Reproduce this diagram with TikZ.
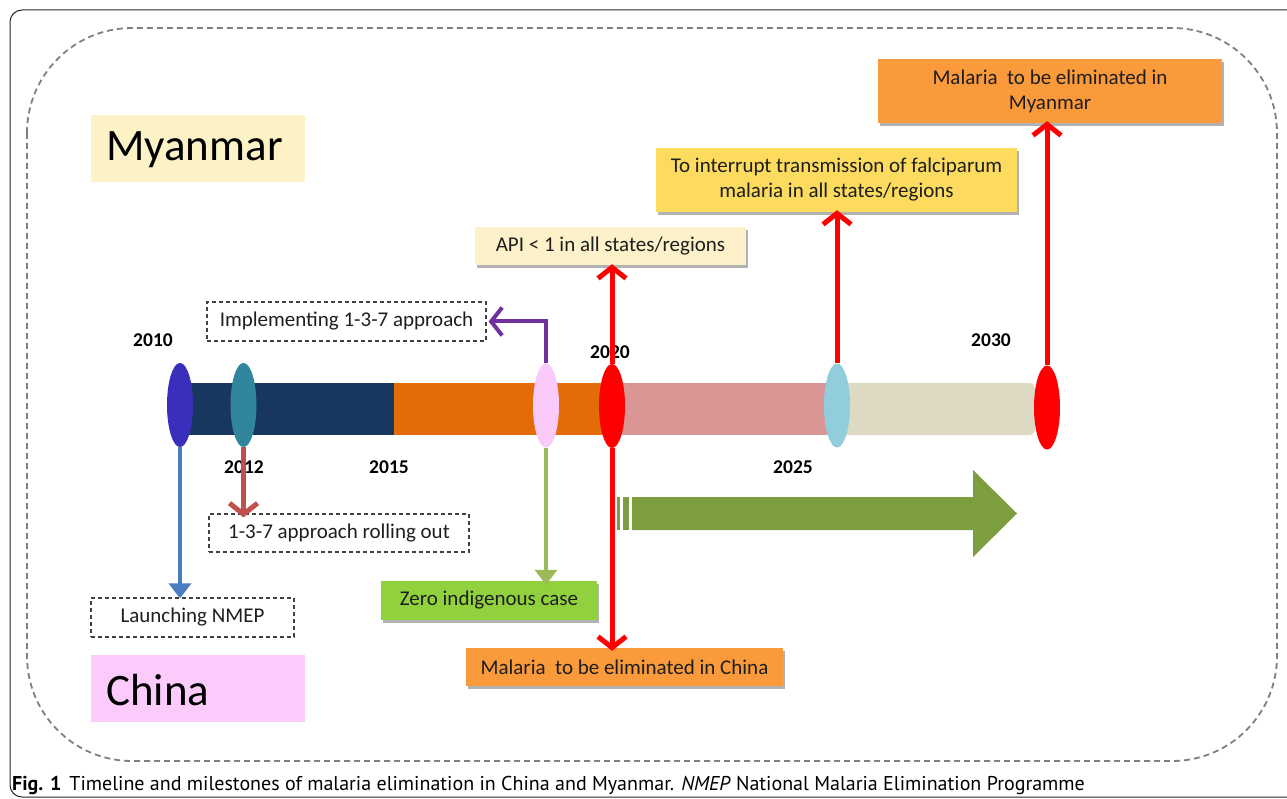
\documentclass[tikz,border=0pt]{standalone}
\usepackage{fontspec}
\setmainfont{Carlito}
\newfontfamily\capfont{PT Sans}
\usetikzlibrary{arrows.meta,shapes.geometric,shadows}
\definecolor{navybar}{HTML}{17375E}
\definecolor{orangebar}{HTML}{E36C09}
\definecolor{pinkbar}{HTML}{D99694}
\definecolor{beigebar}{HTML}{DDD9C3}
\definecolor{cblue}{HTML}{3A2FBD}
\definecolor{cteal}{HTML}{31859C}
\definecolor{cpink}{HTML}{FACAFA}
\definecolor{cred}{HTML}{FF0000}
\definecolor{clblue}{HTML}{92CDDC}
\definecolor{myfill}{HTML}{FDF1C6}
\definecolor{chfill}{HTML}{FCCBFC}
\definecolor{apifill}{HTML}{FCF1C8}
\definecolor{intfill}{HTML}{FDDB5E}
\definecolor{orfill}{HTML}{FA9A3A}
\definecolor{zerofill}{HTML}{92D13E}
\definecolor{arrblue}{HTML}{4A7EC0}
\definecolor{arrbrown}{HTML}{C0504D}
\definecolor{arrpurple}{HTML}{7030A0}
\definecolor{arrgreen}{HTML}{9BBB59}
\definecolor{biggreen}{HTML}{7C9E3E}
\definecolor{txt}{HTML}{1E1E1E}
\begin{document}
\begin{tikzpicture}[x=1pt,y=-1pt,
  ell/.style={ellipse, minimum width=26pt, minimum height=84pt, inner sep=0pt, draw=none},
  dbox/.style={draw=black!75, dashed, dash pattern=on 4pt off 3pt, line width=1.2pt, inner sep=0pt, text=txt, font=\fontsize{21}{25}\selectfont, align=center},
  sbox/.style={inner sep=0pt, text=txt, font=\fontsize{21}{25}\selectfont, align=center, drop shadow={shadow xshift=2pt, shadow yshift=-3pt, opacity=0.3, fill=black}},
  yr/.style={font=\bfseries\fontsize{19.5}{22}\selectfont, text=black, inner sep=0pt},
  country/.style={inner sep=0pt, minimum width=214pt, minimum height=67pt},
  ctext/.style={font=\fontsize{45}{50}\selectfont, text=black, inner sep=0pt, anchor=west},
  barb/.style={line width=5pt, -{Straight Barb[length=11pt, width=28pt]}},
  tri/.style={line width=4.5pt, -{Triangle[length=15pt, width=22pt]}}
]
\useasboundingbox (0,0) rectangle (1287,799);
\clip (0,0) rectangle (1287,799);
% frames
\draw[line width=1pt, black!85, rounded corners=12pt] (10,10) rectangle (1320,797);
\draw[black!50, line width=1.8pt, dash pattern=on 6pt off 4pt, rounded corners=105pt] (27,28) rectangle (1277,761);
% country labels
\node[country, fill=myfill] (mybox) at (198,148.5) {};
\node[ctext] (mytext) at (106,150) {Myanmar};
\node[country, fill=chfill] (chbox) at (198,688.5) {};
\node[ctext] (chtext) at (106,690) {China};
% bar
\fill[navybar] (180,383) rectangle (394,435);
\fill[orangebar] (394,383) rectangle (612,435);
\fill[pinkbar] (612,383) rectangle (837,435);
\fill[beigebar, rounded corners=6pt] (830,383) rectangle (1035,435);
% ellipses
\node[ell, fill=cblue] (e2010) at (180,405) {};
\node[ell, fill=cteal] (e2012) at (243.5,405) {};
\node[ell, fill=cpink] (epink) at (546,405.5) {};
\node[ell, fill=cred] (e2020) at (612,406) {};
\node[ell, fill=clblue] (e2025) at (837,405.5) {};
\node[ell, fill=cred] (e2030) at (1047,407.5) {};
% years
\node[yr] (y2010) at (153,340) {2010};
\node[yr] (y2012) at (244,467) {2012};
\node[yr] (y2015) at (389,467) {2015};
\node[yr] (y2020) at (610,352) {2020};
\node[yr] (y2025) at (793,467) {2025};
\node[yr] (y2030) at (991,340) {2030};
% boxes
\node[dbox, minimum width=279pt, minimum height=39pt] (impl) at (346.5,321.5) {Implementing 1-3-7 approach};
\node[dbox, minimum width=260pt, minimum height=38pt] (roll) at (339,533) {1-3-7 approach rolling out};
\node[dbox, minimum width=203pt, minimum height=39pt] (launch) at (192.5,617.5) {Launching NMEP};
\node[sbox, fill=apifill, minimum width=271pt, minimum height=38pt] (api) at (610.5,246) {API < 1 in all states/regions};
\node[sbox, fill=intfill, minimum width=361pt, minimum height=64pt] (interrupt) at (836.5,180) {To interrupt transmission of falciparum\\malaria in all states/regions};
\node[sbox, fill=orfill, minimum width=344pt, minimum height=64pt] (myelim) at (1050,91) {Malaria\ \ to be eliminated in\\Myanmar};
\node[sbox, fill=zerofill, minimum width=216pt, minimum height=39pt] (zero) at (489,600.5) {Zero indigenous case};
\node[sbox, fill=orfill, minimum width=317pt, minimum height=38pt] (chelim) at (624.5,667) {Malaria\ \ to be eliminated in China};
% arrows
\draw[tri, arrblue] (e2010.south) -- ([yshift=-1pt]e2010.south |- launch.north);
\draw[barb, arrbrown] (e2012.south) -- ([yshift=-4pt]e2012.south |- roll.north);
\draw[barb, arrpurple, line width=4pt] (epink.north) |- ([xshift=2pt]impl.east);
\draw[tri, arrgreen] (epink.south) -- ([yshift=-4pt]epink.south |- zero.north);
\draw[barb, cred] (e2020.north) -- ([yshift=1pt]e2020.north |- api.south);
\draw[barb, cred] (e2020.south) -- ([yshift=-3pt]e2020.south |- chelim.north);
\draw[barb, cred] (e2025.north) -- ([yshift=2pt]e2025.north |- interrupt.south);
\draw[barb, cred] (e2030.north) -- ([yshift=2pt]e2030.north |- myelim.south);
% big striped arrow
\fill[biggreen] (617,497) rectangle (620,530);
\fill[biggreen] (623,497) rectangle (629,530);
\fill[biggreen] (632,497) -- (973,497) -- (973,470) -- (1017,513.5) -- (973,557) -- (973,530) -- (632,530) -- cycle;
% caption
\node[anchor=base west, inner sep=0pt, font=\capfont\fontsize{20}{22}\selectfont, text=black] (cap) at (12,790) {\textbf{Fig. 1}\hspace{8pt}Timeline and milestones of malaria elimination in China and Myanmar. \textit{NMEP} National Malaria Elimination Programme};
\end{tikzpicture}
\end{document}
